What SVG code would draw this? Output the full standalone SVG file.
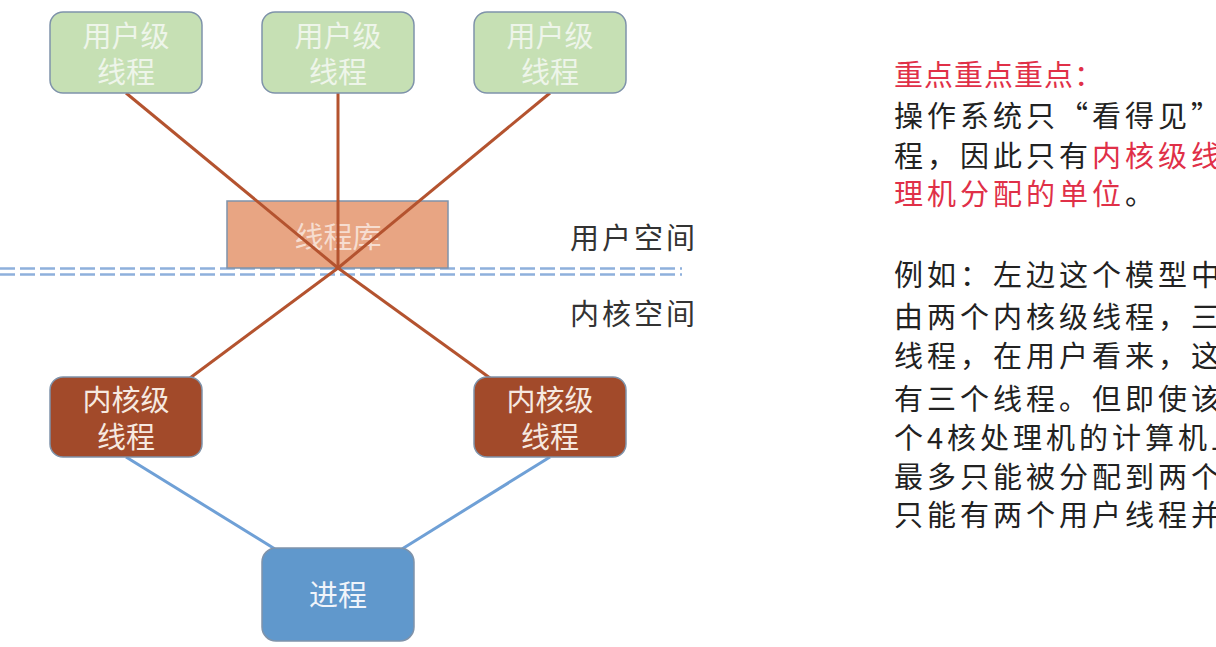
<svg xmlns="http://www.w3.org/2000/svg" width="1216" height="647" viewBox="0 0 1216 647">
<style>
.t{font-family:"Noto Sans CJK SC","Noto Sans",sans-serif;}
.nt{font-size:29px;text-anchor:middle;}
.ut{fill:#eef5ea;}
.kt{fill:#f6e9e0;}
.box{stroke:#7f93aa;stroke-width:1.5;}
.br{stroke:#b4532f;stroke-width:3;fill:none;}
.bl{stroke:#6fa0d6;stroke-width:3;fill:none;}
.dash{stroke:#8eb0dc;stroke-width:2.5;stroke-dasharray:15 5;fill:none;}
.side{font-size:29px;fill:#333;letter-spacing:3px;}
.rt{font-size:29px;fill:#222;letter-spacing:4px;}
.hd{letter-spacing:1px;}
.red{fill:#e03048;}
</style>
<rect width="1216" height="647" fill="#ffffff"/>
<g id="divider">
<line class="dash" x1="0" y1="268.5" x2="682" y2="268.5"/>
<line class="dash" x1="0" y1="274.5" x2="682" y2="274.5"/>
</g>
<g id="lib">
<rect class="box" x="227" y="201" width="221" height="67" fill="#e8a583"/>
<text class="t nt" x="338" y="248" fill="#f6ddd0">线程库</text>
</g>
<g id="connectors">
<line class="br" x1="126" y1="93" x2="338" y2="268"/>
<line class="br" x1="338" y1="93" x2="338" y2="268"/>
<line class="br" x1="550" y1="93" x2="338" y2="268"/>
<line class="br" x1="338" y1="268" x2="190" y2="378"/>
<line class="br" x1="338" y1="268" x2="490" y2="378"/>
<line class="bl" x1="126" y1="457" x2="275" y2="549"/>
<line class="bl" x1="550" y1="457" x2="402" y2="549"/>
</g>
<g id="user1">
<rect class="box" x="50" y="12" width="152" height="81" rx="13" fill="#c6e0b4"/>
<text class="t nt ut" x="126" y="46.5">用户级</text>
<text class="t nt ut" x="126" y="83">线程</text>
</g>
<g id="user2">
<rect class="box" x="262" y="12" width="152" height="81" rx="13" fill="#c6e0b4"/>
<text class="t nt ut" x="338" y="46.5">用户级</text>
<text class="t nt ut" x="338" y="83">线程</text>
</g>
<g id="user3">
<rect class="box" x="474" y="12" width="152" height="81" rx="13" fill="#c6e0b4"/>
<text class="t nt ut" x="550" y="46.5">用户级</text>
<text class="t nt ut" x="550" y="83">线程</text>
</g>
<g id="kernel1">
<rect class="box" x="50" y="377" width="152" height="80" rx="13" fill="#a24a2a"/>
<text class="t nt kt" x="126" y="410.5">内核级</text>
<text class="t nt kt" x="126" y="448">线程</text>
</g>
<g id="kernel2">
<rect class="box" x="474" y="377" width="152" height="80" rx="13" fill="#a24a2a"/>
<text class="t nt kt" x="550" y="410.5">内核级</text>
<text class="t nt kt" x="550" y="448">线程</text>
</g>
<g id="process">
<rect class="box" x="262" y="548" width="152" height="93" rx="14" fill="#6098cc"/>
<text class="t nt" x="338" y="606" fill="#f0f4fa">进程</text>
</g>
<g id="labels">
<text class="t side" x="570" y="249">用户空间</text>
<text class="t side" x="570" y="325">内核空间</text>
</g>
<g id="notes">
<text class="t rt red hd" x="894" y="86">重点重点重点：</text>
<text class="t rt" x="894" y="127">操作系统只“看得见”</text>
<text class="t rt" x="894" y="167">程，因此只有<tspan class="red">内核级线</tspan></text>
<text class="t rt" x="894" y="205"><tspan class="red">理机分配的单位</tspan>。</text>
<text class="t rt" x="894" y="286">例如：左边这个模型中</text>
<text class="t rt" x="894" y="328">由两个内核级线程，三</text>
<text class="t rt" x="894" y="367">线程，在用户看来，这</text>
<text class="t rt" x="894" y="410">有三个线程。但即使该</text>
<text class="t rt" x="894" y="449">个4核处理机的计算机上</text>
<text class="t rt" x="894" y="488">最多只能被分配到两个</text>
<text class="t rt" x="894" y="526">只能有两个用户线程并</text>
</g>
</svg>
